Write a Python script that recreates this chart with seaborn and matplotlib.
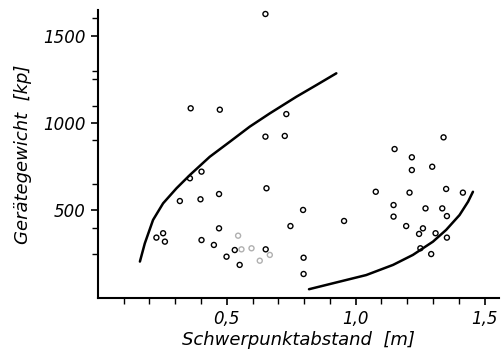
import matplotlib
matplotlib.use("Agg")
import matplotlib.pyplot as plt
import seaborn as sns
import pandas as pd
from matplotlib.ticker import FixedLocator

# --- data ---
dist_dark = [0.227, 0.253, 0.260, 0.318, 0.357, 0.402, 0.398, 0.470, 0.402, 0.450,
             0.470, 0.499, 0.531, 0.550, 0.651, 0.654, 0.796, 0.747, 0.798, 0.798,
             0.360, 0.473, 0.650, 0.725, 0.731, 0.650, 0.955,
             1.078, 1.209, 1.351, 1.416, 1.147, 1.147, 1.271, 1.336, 1.354, 1.196,
             1.261, 1.246, 1.310, 1.354, 1.251, 1.293, 1.218, 1.341, 1.151, 1.218,
             1.297]
weight_dark = [345, 370, 322, 554, 684, 722, 564, 594, 331, 303,
               398, 236, 274, 189, 278, 627, 503, 411, 230, 137,
               1084, 1076, 922, 926, 1051, 1623, 440,
               607, 602, 623, 602, 531, 465, 512, 512, 468, 411,
               398, 366, 370, 345, 284, 251, 731, 918, 851, 804,
               750]
dist_faded = [0.544, 0.557, 0.596, 0.667, 0.628]
weight_faded = [356, 278, 284, 246, 213]

upper_curve_x = [0.163, 0.182, 0.214, 0.253, 0.305, 0.357, 0.434, 0.512, 0.589, 0.667, 0.770, 0.848, 0.925]
upper_curve_y = [208, 312, 446, 541, 627, 703, 807, 893, 979, 1055, 1150, 1217, 1284]
lower_curve_x = [0.819, 0.912, 1.041, 1.145, 1.222, 1.300, 1.351, 1.403, 1.436, 1.455]
lower_curve_y = [50, 84, 131, 189, 246, 322, 389, 474, 550, 607]

x_ticks = [0.5, 1.0, 1.5]
x_tick_labels = ["0,5", "1,0", "1,5"]
y_ticks = [500, 1000, 1500]
y_tick_labels = ["500", "1000", "1500"]
x_minor = [0.1, 0.2, 0.3, 0.4, 0.6, 0.7, 0.8, 0.9, 1.1, 1.2, 1.3, 1.4]
y_minor = [250, 400, 650, 900, 1100, 1250, 1300, 1600]

sns.set_style("ticks")
plt.rcParams["font.family"] = ["DejaVu Sans"]
plt.rcParams["text.color"] = "black"
plt.rcParams["axes.labelcolor"] = "black"
plt.rcParams["xtick.color"] = "black"
plt.rcParams["ytick.color"] = "black"

fig = plt.figure(figsize=(5.02, 3.56), dpi=100)
ax = fig.add_axes([0.195, 0.163, 0.80, 0.809])

dark = pd.DataFrame({"d": dist_dark, "w": weight_dark})
faded = pd.DataFrame({"d": dist_faded, "w": weight_faded})
sns.scatterplot(data=dark, x="d", y="w", ax=ax, s=13, marker="o",
                facecolors="none", edgecolors="black", linewidths=1.0)
sns.scatterplot(data=faded, x="d", y="w", ax=ax, s=13, marker="o",
                facecolors="none", edgecolors="#b0b0b0", linewidths=1.0)
sns.lineplot(x=upper_curve_x, y=upper_curve_y, ax=ax, sort=False, estimator=None,
             color="black", lw=1.8)
sns.lineplot(x=lower_curve_x, y=lower_curve_y, ax=ax, sort=False, estimator=None,
             color="black", lw=1.8)

ax.set_xlim(0, 1.558)
ax.set_ylim(0, 1646)
ax.set_xticks(x_ticks)
ax.set_xticklabels(x_tick_labels, fontsize=12, style="italic", color="black")
ax.set_yticks(y_ticks)
ax.set_yticklabels(y_tick_labels, fontsize=12, style="italic", color="black")
ax.xaxis.set_minor_locator(FixedLocator(x_minor))
ax.yaxis.set_minor_locator(FixedLocator(y_minor))
ax.tick_params(which="major", length=5, width=1.2, color="black", pad=4)
ax.tick_params(which="minor", length=4, width=1.0, color="black")
ax.set_xlabel("Schwerpunktabstand  [m]", fontsize=13, style="italic", labelpad=2, color="black")
ax.set_ylabel("Gerätegewicht  [kp]", fontsize=13, style="italic", labelpad=8, color="black")
sns.despine(ax=ax)
for s in ["left", "bottom"]:
    ax.spines[s].set_linewidth(1.5)
    ax.spines[s].set_color("black")

fig.savefig("out.png", dpi=100)
